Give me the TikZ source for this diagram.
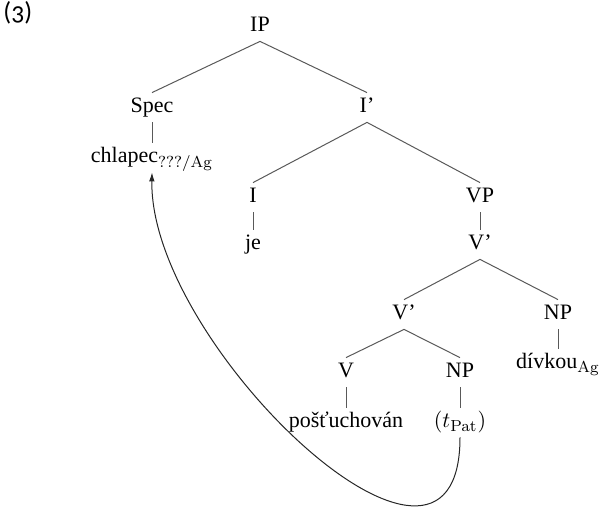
\documentclass[tikz,border=0pt]{standalone}
\usepackage[no-math]{fontspec}
\setmainfont{Liberation Serif}
\newfontfamily\exfont{Carlito}[Numbers=OldStyle]
\usepackage{tikz}
\usetikzlibrary{arrows.meta,positioning}

\begin{document}
\begin{tikzpicture}[
				x=1pt, y=1pt,
				on grid,
				cat/.style={inner sep=2pt, text height=8pt, text depth=2.5pt,
					font=\fontsize{11}{13}\selectfont},
				branch/.style={line width=0.5pt, black!65},
				arrow/.style={-{Latex[length=4.5pt,width=2.8pt]}, line width=0.5pt, black!85},
				exlabel/.style={font=\exfont\fontsize{13}{15}\selectfont,
					anchor=base west, inner sep=0pt},
				]
				
				\useasboundingbox (0,0) rectangle (302,-256);
				
				%% ── Example number ──────────────────────────────────────────────
				\node[exlabel] (exnum) at (1.5,-10.5) {(3)};
				
				%% ── IP level ─────────────────────────────────────────────────────
				\node[cat] (ip) at (130,-13.25) {IP};
				\node[cat, below left=40.5pt and 54pt of ip] (spec) {Spec};
				\node[cat, below right=40.5pt and 53.5pt of ip] (ibar) {I’};
				\node[cat, below=25pt of spec] (chlapec) {chlapec$_{\mathrm{???/Ag}}$};
				
				\draw[branch] (ip.south) -- (spec.north);
				\draw[branch] (ip.south) -- (ibar.north);
				\draw[branch] (spec.south) -- (chlapec.north);
				
				%% ── I' level ─────────────────────────────────────────────────────
				\node[cat, below left=45pt and 57pt of ibar] (infl) {I};
				\node[cat, below right=45pt and 56.5pt of ibar] (vp) {VP};
				\node[cat, below=23.5pt of infl] (je) {je};
				\node[cat, below=23.5pt of vp] (vbar) {V’};
				
				\draw[branch] (ibar.south) -- (infl.north);
				\draw[branch] (ibar.south) -- (vp.north);
				\draw[branch] (infl.south) -- (je.north);
				\draw[branch] (vp.south) -- (vbar.north);
				
				%% ── V' level ─────────────────────────────────────────────────────
				\node[cat, below left=35pt and 38pt of vbar] (vbarlow) {V’};
				\node[cat, below right=35pt and 39pt of vbar] (npobj) {NP};
				\node[cat, below=24.5pt of npobj] (divkou) {dívkou$_{\mathrm{Ag}}$};
				
				\draw[branch] (vbar.south) -- (vbarlow.north);
				\draw[branch] (vbar.south) -- (npobj.north);
				\draw[branch] (npobj.south) -- (divkou.north);
				
				%% ── lower V' ─────────────────────────────────────────────────────
				\node[cat, below left=29pt and 29pt of vbarlow] (verb) {V};
				\node[cat, below right=29pt and 28pt of vbarlow] (nptrace) {NP};
				\node[cat, below=25pt of verb] (postuch) {pošťuchován};
				\node[cat, below=25pt of nptrace] (trace) {$(t_{\mathrm{Pat}})$};
				
				\draw[branch] (vbarlow.south) -- (verb.north);
				\draw[branch] (vbarlow.south) -- (nptrace.north);
				\draw[branch] (verb.south) -- (postuch.north);
				\draw[branch] (nptrace.south) -- (trace.north);
				
				%% ── Movement arrow: trace to subject ────────────────────────────
				\draw[arrow] (trace.south) .. controls +(0,-101pt) and +(-1.5pt,-87pt) .. (chlapec.south);
				
			\end{tikzpicture}
\end{document}
